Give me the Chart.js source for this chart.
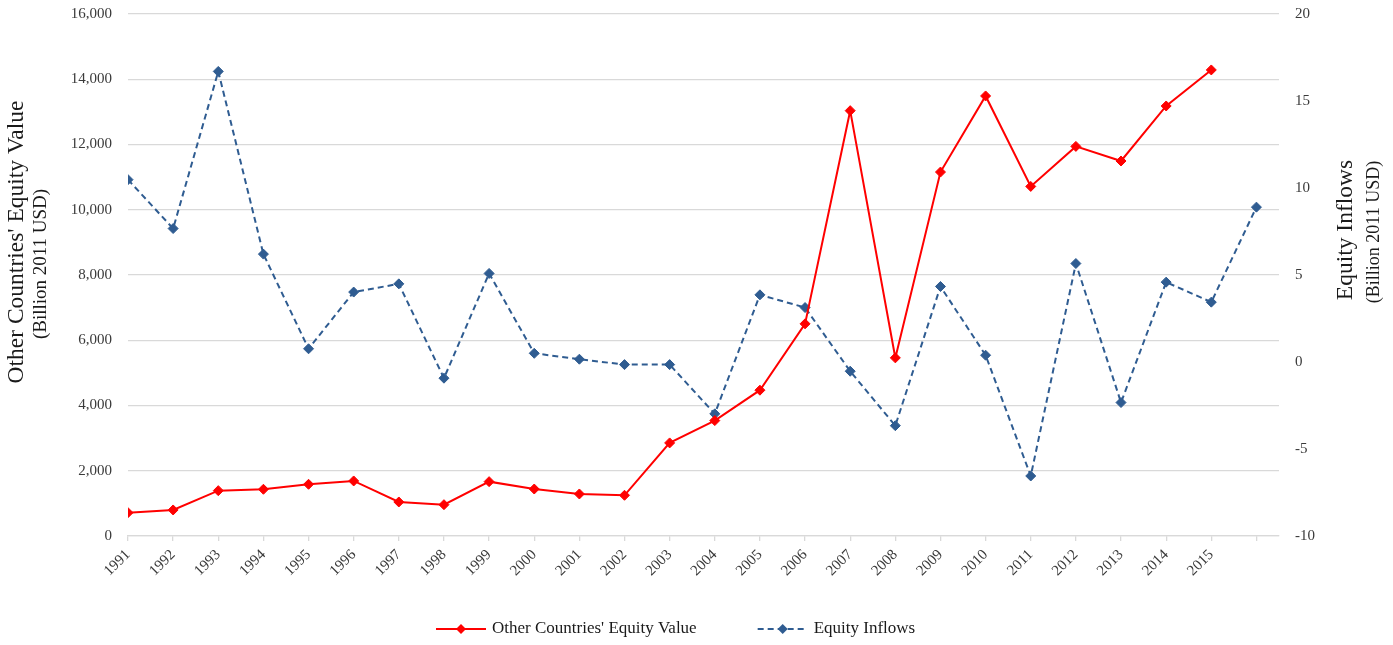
<!DOCTYPE html>
<html><head><meta charset="utf-8">
<script src="https://cdn.jsdelivr.net/npm/chart.js@4/dist/chart.umd.min.js"></script>
<style>html,body{margin:0;padding:0;background:#fff;overflow:hidden}</style>
</head><body>
<canvas id="c" width="1393" height="645"></canvas>
<script>
const years = [1991,1992,1993,1994,1995,1996,1997,1998,1999,2000,2001,2002,2003,2004,2005,2006,2007,2008,2009,2010,2011,2012,2013,2014,2015,2016];
const yearLabels = ['1991','1992','1993','1994','1995','1996','1997','1998','1999','2000','2001','2002','2003','2004','2005','2006','2007','2008','2009','2010','2011','2012','2013','2014','2015',''];
const equityValue = [715,798,1390,1432,1585,1687,1043,960,1666,1440,1288,1248,2853,3537,4469,6503,13037,5460,11156,13488,10715,11942,11494,13181,14285];
const equityInflows = [10.48,7.67,16.7,6.2,0.76,4.02,4.49,-0.93,5.09,0.5,0.16,-0.15,-0.15,-2.98,3.86,3.13,-0.53,-3.66,4.34,0.39,-6.55,5.66,-2.33,4.59,3.44,8.9];
const seriesNames = ["Other Countries' Equity Value", "Equity Inflows"];
const leftTitle = "Other Countries' Equity Value";
const rightTitle = "Equity Inflows";
const unitTitle = "(Billion 2011 USD)";

const FONT = "'Liberation Serif', 'Times New Roman', serif";
const RED = '#FF0000';
const BLUE = '#2F5C91';
const GRID = '#D9D9D9';
const TXT = '#3a3a3a';

const extras = {
  id: 'extras',
  afterDraw(chart) {
    const ctx = chart.ctx;
    ctx.save();
    ctx.fillStyle = '#1a1a1a';
    ctx.textAlign = 'center';
    ctx.textBaseline = 'middle';
    // left titles
    ctx.save(); ctx.translate(17, 242); ctx.rotate(-Math.PI/2);
    ctx.font = '23.5px ' + FONT; ctx.fillText(leftTitle, 0, 0); ctx.restore();
    ctx.save(); ctx.translate(41, 264); ctx.rotate(-Math.PI/2);
    ctx.font = '19px ' + FONT; ctx.fillText(unitTitle, 0, 0); ctx.restore();
    // right titles
    ctx.save(); ctx.translate(1346, 230); ctx.rotate(-Math.PI/2);
    ctx.font = '23.5px ' + FONT; ctx.fillText(rightTitle, 0, 0); ctx.restore();
    ctx.save(); ctx.translate(1374, 232); ctx.rotate(-Math.PI/2);
    ctx.font = '18px ' + FONT; ctx.fillText(unitTitle, 0, 0); ctx.restore();

    // legend
    ctx.font = '17px ' + FONT;
    const sample = 50, gapText = 6, gapItem = 61;
    const ds = chart.data.datasets;
    const widths = ds.map(d => ctx.measureText(d.label).width);
    let x = 436;
    const y = 629;
    ds.forEach((d,i) => {
      ctx.save();
      ctx.strokeStyle = d.borderColor; ctx.lineWidth = d.borderWidth;
      ctx.setLineDash(d.borderDash || []);
      ctx.beginPath(); ctx.moveTo(x, y); ctx.lineTo(x+sample, y); ctx.stroke();
      ctx.setLineDash([]);
      ctx.fillStyle = d.pointBackgroundColor;
      const cx = x + sample/2, r = 5;
      ctx.beginPath(); ctx.moveTo(cx, y-r); ctx.lineTo(cx+r, y); ctx.lineTo(cx, y+r); ctx.lineTo(cx-r, y); ctx.closePath(); ctx.fill();
      ctx.restore();
      ctx.fillStyle = '#1a1a1a'; ctx.textAlign = 'left';
      ctx.fillText(d.label, x + sample + gapText, y);
      x += sample + gapText + widths[i] + gapItem;
    });
    ctx.restore();
  }
};

new Chart(document.getElementById('c'), {
  type: 'line',
  data: {
    datasets: [
      {
        label: seriesNames[0], yAxisID: 'y',
        data: equityValue.map((v,i)=>({x: years[i], y: v})),
        borderColor: RED, backgroundColor: RED, pointBackgroundColor: RED, pointBorderColor: RED,
        borderWidth: 2, pointStyle: 'rectRot', pointRadius: 5, pointBorderWidth: 1, tension: 0, fill: false
      },
      {
        label: seriesNames[1], yAxisID: 'y1',
        data: equityInflows.map((v,i)=>({x: years[i], y: v})),
        borderColor: BLUE, backgroundColor: BLUE, pointBackgroundColor: BLUE, pointBorderColor: BLUE,
        borderWidth: 2, borderDash: [6,4], pointStyle: 'rectRot', pointRadius: 5, pointBorderWidth: 1, tension: 0, fill: false
      }
    ]
  },
  options: {
    responsive: false, animation: false, devicePixelRatio: 1,
    layout: { padding: { top: 14, left: 0, right: 0, bottom: 0 } },
    plugins: { legend: { display: false }, tooltip: { enabled: false } },
    scales: {
      x: {
        type: 'linear', min: 1991, max: 2016.5,
        afterBuildTicks: s => { s.ticks = years.map(v => ({ value: v })); },
        afterFit: s => { s.height = 109; },
        ticks: { autoSkip: false, maxRotation: 45, minRotation: 45, padding: 5, color: TXT,
          font: { family: FONT, size: 15 },
          callback: v => yearLabels[years.indexOf(v)] },
        grid: { drawOnChartArea: false, drawTicks: true, tickLength: 5, color: GRID, lineWidth: 1.3 },
        border: { color: GRID, width: 1.3 }
      },
      y: {
        position: 'left', min: 0, max: 16000,
        afterFit: s => { s.width = 128; s.paddingTop = 0; s.paddingBottom = 0; },
        ticks: { stepSize: 2000, padding: 16, color: TXT, font: { family: FONT, size: 15 },
          callback: v => v.toLocaleString('en-US') },
        grid: { color: GRID, lineWidth: 1.3, drawTicks: false },
        border: { display: false }
      },
      y1: {
        position: 'right', min: -10, max: 20,
        afterFit: s => { s.width = 114; s.paddingTop = 0; s.paddingBottom = 0; },
        ticks: { stepSize: 5, padding: 16, color: TXT, font: { family: FONT, size: 15 } },
        grid: { drawOnChartArea: false, drawTicks: false },
        border: { display: false }
      }
    }
  },
  plugins: [extras]
});
</script>
</body></html>
